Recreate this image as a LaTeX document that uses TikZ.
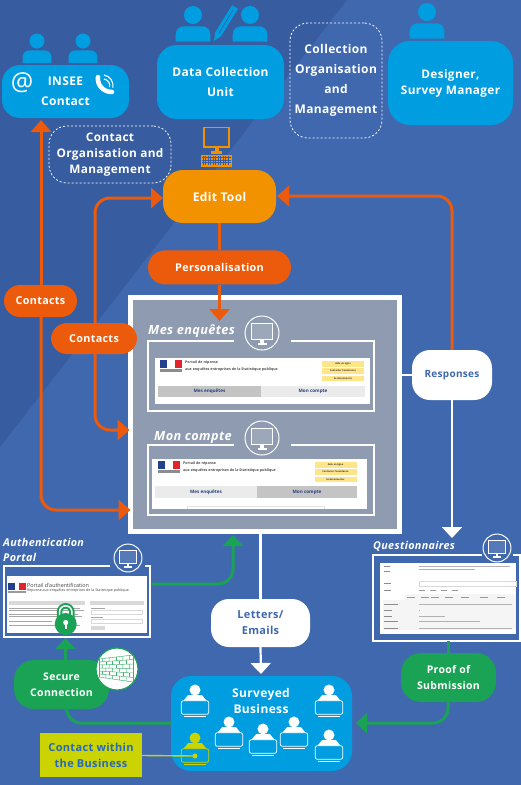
\documentclass[tikz,border=0pt]{standalone}
\usepackage{xcolor}
\usepackage{fontspec}
\setmainfont{Open Sans}[LetterSpace=3]
\newfontfamily\plainfont{Open Sans}
\usetikzlibrary{arrows.meta,positioning,calc}
\definecolor{bgdark}{HTML}{375C9F}
\definecolor{bglight}{HTML}{3F68AF}
\definecolor{skyblue}{HTML}{009EE0}
\definecolor{editorange}{HTML}{F39200}
\definecolor{linkorange}{HTML}{EC5B0C}
\definecolor{linkgreen}{HTML}{1BA355}
\definecolor{lime}{HTML}{CBD300}
\definecolor{panelgray}{HTML}{8F9BB0}
\definecolor{tagyellow}{HTML}{FFE58A}
\definecolor{tabdark}{HTML}{C4C4C4}
\definecolor{tablight}{HTML}{EBEBEB}
\definecolor{navytext}{HTML}{27417E}
\definecolor{flagblue}{HTML}{23408F}
\definecolor{flagred}{HTML}{E1242B}
\definecolor{withinblue}{HTML}{2468BE}
% a person above a box
\newcommand{\bustfig}[3]{%
  \fill[skyblue] (#1,#2) circle (#3);
  \fill[skyblue] ($(#1,#2)+(-#3*1.93,#3*2.95)$) {[rounded corners=#3*0.9pt] -- ($(#1,#2)+(-#3*1.93,#3*1.25)$) -- ($(#1,#2)+(#3*1.93,#3*1.25)$)} -- ($(#1,#2)+(#3*1.93,#3*2.95)$) -- cycle;
}
% a person at a laptop
\newcommand{\laptopfig}[3]{%
  \begin{scope}[shift={(#1,#2)}]
    \fill[#3] (0,0) circle (5.5);
    \fill[#3] (-11.5,10.7) -- (-7,5.2) -- (7,5.2) -- (11.5,10.7) -- cycle;
    \draw[#3, line width=.7, rounded corners=2] (-13.7,10.7) rectangle (13.7,24.3);
    \draw[#3, line width=.8] (-11,26.2) -- (11,26.2);
  \end{scope}
}
% a screen in a ring
\newcommand{\screenring}[3]{%
  \begin{scope}[shift={(#1,#2)}, scale=#3]
    \draw[white, line width=1] (0,0) circle (17);
    \draw[white, line width=1.2, fill=white, fill opacity=.12] (-10.5,-9.3) rectangle (10.5,6.7);
    \fill[white] (-1.6,6.7) rectangle (1.6,10.3);
    \fill[white] (-4.5,10.3) rectangle (4.5,11.8);
  \end{scope}
}
% the heading of the portal
\newcommand{\portalhead}[4]{%
  \begin{scope}[shift={(#1,#2)}]
    \fill[flagblue] (0,0) rectangle (7,8);
    \fill[flagred] (14.5,0) rectangle (21.5,8);
    \fill[black!45] (0,8.8) rectangle (21.5,11.6);
    \node[paneltext, anchor=west] (#4a) at (25,3) {Portail de réponse};
    \node[paneltext, anchor=west] (#4b) at (25,10) {aux enquêtes entreprises de la Statistique publique};
    \foreach \tagy/\tagtext in {4/Aide en ligne,11/Contacter l'assistance,18.5/Se déconnecter} {
      \node[tagbox] at (#3,\tagy) {\tagtext};
    }
  \end{scope}
}
\begin{document}
\begin{tikzpicture}[x=1pt,y=-1pt,
    bluebox/.style={fill=skyblue, text=white, rounded corners=20, align=center, inner sep=0, font=\fontsize{12}{20}\bfseries\selectfont},
    orangebox/.style={fill=linkorange, text=white, rounded corners=16, align=center, inner sep=0, font=\fontsize{10.8}{16}\bfseries\selectfont},
    greenbox/.style={fill=linkgreen, text=white, rounded corners=20, align=center, inner sep=0, font=\fontsize{10.5}{16}\bfseries\selectfont},
    whitebox/.style={fill=white, text=bglight, rounded corners=18, align=center, inner sep=0, font=\fontsize{11}{16}\bfseries\selectfont},
    dashbox/.style={draw=white, dash pattern=on 2pt off 2pt, line width=.8, rounded corners=18, text=white, align=center, inner sep=0},
    paneltitle/.style={text=white, inner sep=0, anchor=west, font=\fontsize{12.7}{16}\bfseries\itshape\selectfont},
    smalltitle/.style={text=white, inner sep=0, anchor=west, font=\fontsize{10.8}{15}\bfseries\itshape\selectfont},
    paneltext/.style={text=black!70, inner sep=0, font=\plainfont\fontsize{3.6}{4}\bfseries\selectfont},
    tagbox/.style={fill=tagyellow, text=black!80, minimum width=42, minimum height=5.5, inner sep=0, font=\plainfont\fontsize{2.4}{3}\bfseries\selectfont},
    tabbox/.style={minimum height=11.5, inner sep=0, text=navytext, font=\plainfont\fontsize{4.6}{5}\bfseries\selectfont},
    orangeline/.style={draw=linkorange, line width=3, rounded corners=15, -{Triangle[length=12,width=20]}},
    greenline/.style={draw=linkgreen, line width=3, rounded corners=15, -{Triangle[length=11,width=20]}},
    whiteline/.style={draw=white, line width=2.2, -{Triangle[length=11,width=20]}}
]
\useasboundingbox (0,0) rectangle (521,785);
\fill[bglight] (0,0) rectangle (521,785);
\fill[bgdark] (0,0) -- (347,0) -- (0,447) -- cycle;

% actors
\node[bluebox, minimum width=127, minimum height=53, rounded corners=18] (insee) at (65.5,91.5) {INSEE\\Contact};
\node[bluebox, minimum width=127, minimum height=74] (unit) at (220.5,82) {Data Collection\\Unit};
\node[bluebox, minimum width=125, minimum height=84, rounded corners=22, font=\fontsize{11.8}{16}\bfseries\selectfont] (manager) at (450.5,83) {Designer,\\Survey Manager};
\node[dashbox, minimum width=92, minimum height=115, font=\fontsize{12}{20}\bfseries\selectfont] (collect) at (336,80.5) {Collection\\Organisation\\and\\Management};
\node[dashbox, minimum width=122, minimum height=57, font=\fontsize{11.8}{16}\bfseries\selectfont] (organise) at (110,154.5) {Contact\\Organisation and\\Management};
\node[fill=editorange, text=white, rounded corners=20, inner sep=0, minimum width=113, minimum height=53, font=\fontsize{12}{14}\bfseries\selectfont] (edit) at (219.5,196.5) {Edit Tool};
\node[orangebox, below=27pt of edit, minimum width=143, minimum height=34, rounded corners=17] (perso) {Personalisation};

\bustfig{37}{41}{7.5}
\bustfig{83}{41}{7.5}
\bustfig{193}{15}{9}
\bustfig{250}{15}{9}
\bustfig{427}{12}{9}
\fill[skyblue] (214,41) -- (215.2,32.4) -- (232,5.2) -- (238,8.8) -- (221.2,36) -- cycle;
\draw[bgdark, line width=.6] (219,33) -- (233,10);

% at sign and phone
\node[text=white, inner sep=0, font=\plainfont\fontsize{25}{25}\selectfont] (atsign) at (22,83) {@};
\draw[white, line width=4.5, line cap=round] (98,77) .. controls (97,85) and (103,92) .. (112,92);
\draw[white, line width=1.1] (104,75) arc (-80:10:11);
\draw[white, line width=1.1] (104,79) arc (-80:10:7);

% keyboard and screen above the edit tool
\draw[editorange, line width=1.2] (204,127.5) rectangle (229,147);
\fill[editorange] (214.5,147) rectangle (218.5,151);
\fill[editorange] (211,151) rectangle (222,154);
\fill[editorange] (201,155) rectangle (232,167);
\foreach \keyx in {203,205.5,...,230} { \draw[bgdark, line width=.3] (\keyx,156) -- (\keyx,165); }
\foreach \keyy in {157.5,160,162.5} { \draw[bgdark, line width=.3] (202,\keyy) -- (231,\keyy); }

% portal panel
\node[fill=panelgray, draw=white, line width=5, minimum width=269, minimum height=234, inner sep=0] (panel) at (265,414.5) {};
\node[paneltitle] (titleone) at (148,331) {Mes enquêtes};
\node[paneltitle] (titletwo) at (154,437) {Mon compte};
\draw[white, line width=1.5] (234,341) -- (148,341) -- (148,411) -- (374,411) -- (374,341) -- (291,341);
\draw[white, line width=1.5] (234,445) -- (148,445) -- (148,515) -- (374,515) -- (374,445) -- (291,445);
\screenring{262}{333}{1}
\screenring{262}{438}{1}

\fill[white] (155,358) rectangle (370,404);
\portalhead{160}{360}{183}{first}
\fill[tabdark] (158,386) rectangle (261,397);
\fill[tablight] (261,386) rectangle (365,397);
\node[tabbox] (tabone) at (209.5,391.5) {Mes enquêtes};
\node[tabbox] (tabtwo) at (313,391.5) {Mon compte};

\fill[white] (152,459) rectangle (367,509);
\portalhead{158}{461}{177.5}{second}
\fill[tablight] (155,486) rectangle (257,498);
\fill[tabdark] (257,486) rectangle (357,498);
\node[tabbox] (tabthree) at (206,492) {Mes enquêtes};
\node[tabbox] (tabfour) at (307,492) {Mon compte};
\draw[black!10, line width=.4] (187,509) -- (187,506) -- (324,506) -- (324,509);

% authentication portal
\node[smalltitle] (authone) at (3,542) {Authentication};
\node[smalltitle] (authtwo) at (3,557) {Portal};
\draw[white, line width=1.2] (110,566) -- (4,566) -- (4,637) -- (150,637) -- (150,566) -- (145,566);
\screenring{128}{558}{.82}
\fill[white] (7,576) rectangle (147,633);
\fill[flagblue] (8,583) rectangle (15,590);
\fill[flagred] (19,583) rectangle (26,590);
\fill[black!40] (8,591) rectangle (26,593);
\node[inner sep=0, anchor=west, text=black!75, font=\plainfont\fontsize{5.4}{6}\selectfont] (authhead) at (27,585.5) {Portail d'authentification};
\node[inner sep=0, anchor=west, text=black!75, font=\plainfont\fontsize{3.6}{4}\selectfont] (authsub) at (27,591) {Réponse aux enquêtes entreprises de la Statistique publique};
\fill[black!15] (9,601) rectangle (85,605);
\fill[black!15] (90,601) rectangle (144,605);
\foreach \texty/\textx in {608/80,610.5/84,614/78,616.5/82,621/52,625/80} { \draw[black!35, line width=.6] (9,\texty) -- (\textx,\texty); }
\draw[black!35, line width=.5] (91,608) -- (105,608);
\draw[black!15, line width=.5, fill=white] (91,610) rectangle (142,614);
\draw[black!35, line width=.5] (91,617) -- (103,617);
\draw[black!15, line width=.5, fill=white] (91,619) rectangle (142,623);
\fill[black!15] (91,626) rectangle (105,630);

% questionnaires
\node[smalltitle] (quest) at (373,546) {Questionnaires};
\draw[white, line width=1.2] (482,555) -- (373,555) -- (373,641) -- (520,641) -- (520,555) -- (513,555);
\screenring{497}{548}{.82}
\fill[white] (380,563) rectangle (516,634);
\fill[black!4] (383,594) rectangle (516,630);
\fill[white] (383,594) rectangle (405,600);
\foreach \texty/\textx in {566/390,571/390,583/391,590/391,604/398,610/392,616/392,621/398,628/398} { \draw[black!45, line width=.6] (384,\texty) -- (\textx,\texty); }
\foreach \texty/\textx in {566/510,569/475,604/512,610/420,616/445,621/480,628/512} { \draw[black!30, line width=.6] (419,\texty) -- (\textx,\texty); }
\foreach \tabx in {407,421,431,445,461,480,497} { \draw[black!40, line width=.6] (\tabx,597) -- (\tabx+8,597); }
\draw[black!15, line width=.4] (419,581) rectangle (516,586);
\foreach \dotx in {419,430,441,452} { \draw[black!40, line width=.6] (\dotx,590) -- (\dotx+6,590); }

% surveyed business
\node[bluebox, minimum width=181, minimum height=95] (business) at (261.5,723.5) {};
\node[text=white, inner sep=0, align=center, font=\fontsize{12}{16}\bfseries\selectfont] (businesstext) at (261,701) {Surveyed\\Business};
\foreach \seatx/\seaty in {195/690,329/690,229/722,263/729,294/722,329/735} { \laptopfig{\seatx}{\seaty}{white} }
\laptopfig{195}{738}{lime}
\node[fill=lime, text=withinblue, align=center, inner sep=0, minimum width=102, minimum height=44, font=\fontsize{11}{16}\bfseries\selectfont] (within) at (91,755) {Contact within\\the Business};
\coordinate (seat) at (195,756);
\fill[lime] (seat) circle (2.5);
\draw[lime, line width=1.4] (within) -- (seat);

% link pills
\node[orangebox, minimum width=73, minimum height=32] (contactsa) at (40.5,301) {Contacts};
\node[orangebox, minimum width=86, minimum height=31] (contactsb) at (94,338.5) {Contacts};
\node[whitebox, minimum width=80, minimum height=50, font=\fontsize{10}{16}\bfseries\selectfont] (responses) at (452,375) {Responses};
\node[whitebox, minimum width=99, minimum height=48] (letters) at (260.5,623) {Letters/\\Emails};
\node[greenbox, minimum width=95, minimum height=49] (secure) at (61.5,684.5) {Secure\\Connection};
\node[greenbox, minimum width=95, minimum height=49] (proof) at (448.5,677.5) {Proof of\\Submission};

% connector ends
\coordinate (inseetip) at (41,120);
\coordinate (paneltipa) at (129.5,430);
\coordinate (paneltipb) at (130.5,510);
\coordinate (perstip) at (219.5,321);
\coordinate (edittipa) at (163,198);
\coordinate (edittipb) at (277,196);
\coordinate (questtip) at (452,538);
\coordinate (portaltip) at (233,535);
\coordinate (authexit) at (151,584);
\coordinate (locktip) at (65.5,638);
\coordinate (businesstip) at (261,674);
\coordinate (proofexit) at (448,641);
\coordinate (proofjoin) at (356,723);
\coordinate (secureexit) at (66.5,709);
\coordinate (securejoin) at (171,723);
\coordinate (rightbend) at (95,0);

\draw[orangeline] (contactsa.north -| inseetip) -- (inseetip);
\draw[orangeline] (contactsa.south -| inseetip) |- (paneltipb);
\draw[orangeline] (contactsb.north -| rightbend) |- (edittipa);
\draw[orangeline] (contactsb.south -| rightbend) |- (paneltipa);
\draw[linkorange, line width=3] (edit.south) -- (perso.north);
\draw[orangeline] (perso.south) -- (perstip);
\draw[orangeline] (responses.north) |- (edittipb);
\draw[whiteline, -] (panel.east |- responses) -- (responses.west);
\draw[whiteline] (responses.south) -- (questtip);
\draw[whiteline, -] (panel.south -| letters) -- (letters.north);
\draw[whiteline] (letters.south) -- (businesstip);
\draw[greenline] (authexit) -| (portaltip);
\draw[greenline] (secure.north -| locktip) -- (locktip);
\draw[greenline, -] (secureexit) |- (securejoin);
\draw[linkgreen, line width=3] (proofexit) -- (proof.north -| proofexit);
\draw[greenline] (proof.south -| proofexit) |- (proofjoin);

% padlock
\draw[linkgreen, line width=5.5] (59.5,622) -- (59.5,612) arc (180:360:6.2) -- (71.9,622);
\draw[white, line width=1.5] (59.5,622) -- (59.5,612) arc (180:360:6.2) -- (71.9,622);
\fill[linkgreen] (65.7,624) circle (11);
\fill[white] (65.7,622.5) circle (2.6);
\fill[white] (64.5,622.5) rectangle (66.9,628.5);

% brick wall
\node[circle, fill=white, draw=linkgreen, line width=1.2, minimum size=42, inner sep=0] (wall) at (117,669) {};
\foreach \rowfrac in {0,.1667,.3333,.5,.6667,.8333,1} {
  \draw[linkgreen!85, line width=.45] ($(99,659)!\rowfrac!(99,677)$) -- ($(133,655)!\rowfrac!(133,682)$);
}
\foreach \rowfrac/\colstart in {0/.1,.1667/.2,.3333/.1,.5/.2,.6667/.1,.8333/.2} {
  \foreach \colstep in {0,.2,.4,.6,.8} {
    \pgfmathsetmacro{\colfrac}{\colstart+\colstep}
    \pgfmathsetmacro{\rowend}{\rowfrac+.1667}
    \draw[linkgreen!85, line width=.45] ($($(99,659)!\colfrac!(133,655)$)!\rowfrac!($(99,677)!\colfrac!(133,682)$)$) -- ($($(99,659)!\colfrac!(133,655)$)!\rowend!($(99,677)!\colfrac!(133,682)$)$);
  }
}
\draw[linkgreen!85, line width=.45] (99,659) -- (99,677);
\draw[linkgreen!85, line width=.45] (133,655) -- (133,682);
\end{tikzpicture}
\end{document}
